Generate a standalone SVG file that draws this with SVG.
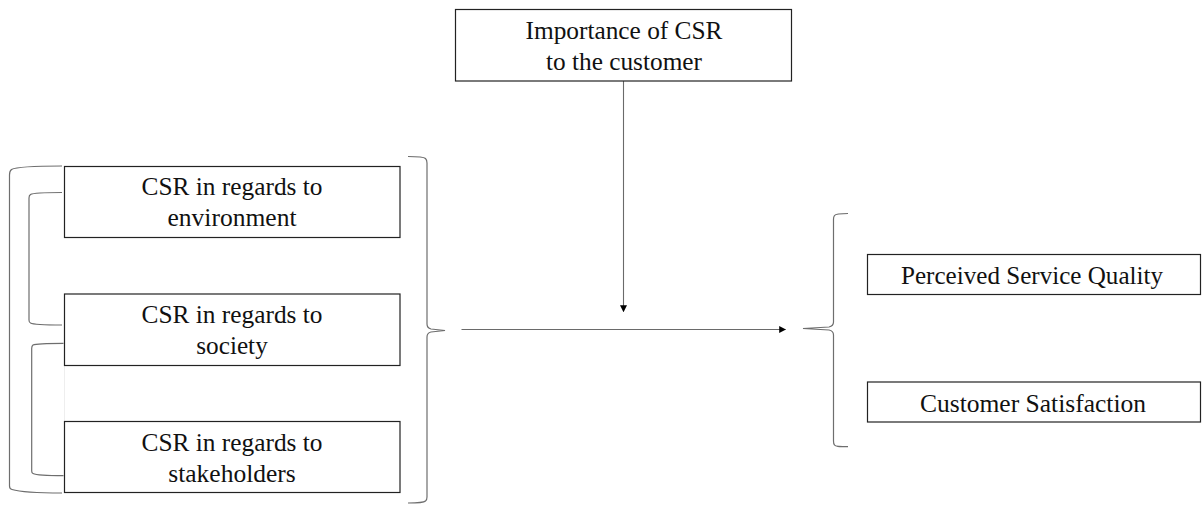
<svg xmlns="http://www.w3.org/2000/svg" width="1202" height="506" viewBox="0 0 1202 506">
<style>
.box{fill:#fff;stroke:#222;stroke-width:1.2}
.t{font-family:"Liberation Serif","Times New Roman",serif;font-size:25.4px;fill:#111;text-anchor:middle}
.br{fill:none;stroke:#6e6e6e;stroke-width:1.2}
.ln{fill:none;stroke:#6a6a6a;stroke-width:1.1}
</style>
<defs>
<marker id="ah" viewBox="0 0 10 10" refX="9" refY="5" markerWidth="7" markerHeight="7" markerUnits="userSpaceOnUse" orient="auto">
<path d="M0,0 L10,5 L0,10 Z" fill="#000"/>
</marker>
</defs>
<rect width="1202" height="506" fill="#fff"/>
<g id="brackets">
<path class="br" d="M62,166 C40,166 16,167 11.5,169.5 Q9.5,171 9.5,175 V486 Q9.5,489 12,489.5 C20,492 40,493 62,493"/>
<path class="br" d="M62,192.5 C45,192.5 33,193 30.5,194.5 Q29,195.5 29,198 V320 Q29,322.5 30.5,323 C33,324.5 45,325 62,325"/>
<path class="br" d="M63.5,343.3 C46,343.3 35,344 33,345 Q31.7,346 31.7,348.5 V471 Q31.7,473 33,473.5 C36,475 46,475.7 63.5,475.7"/>
<path class="br" d="M408,156.5 C420,156.5 424,157 425.5,158.5 Q427,160 427,163 V324 Q427,328 431,329 L445,330.5 L431,332 Q427,333 427,337 V497 Q427,500 425.5,501 C424,502.5 420,503 408,503"/>
<path class="br" d="M848,213.5 C838,213.5 835.5,214 834.5,215.5 Q833.5,217 833.5,219 V322 Q833.5,326 829,327 L803,328.5 L829,330 Q833.5,331 833.5,335 V441 Q833.5,444 834.5,445 C835.5,446.5 838,446.7 848,446.7"/>
<line x1="64.5" y1="365.5" x2="64.5" y2="421.5" stroke="#eeeeee" stroke-width="1"/>
</g>
<g id="connectors">
<line class="ln" x1="623.5" y1="81" x2="623.5" y2="311.5" marker-end="url(#ah)"/>
<line class="ln" x1="461.5" y1="329.5" x2="785.5" y2="329.5" marker-end="url(#ah)"/>
</g>
<g id="importance">
<rect class="box" x="455.5" y="9.5" width="336" height="71.5"/>
<text class="t" x="624" y="38.5" textLength="197" lengthAdjust="spacingAndGlyphs">Importance of CSR</text>
<text class="t" x="624" y="69.5" textLength="156" lengthAdjust="spacingAndGlyphs">to the customer</text>
</g>
<g id="environment">
<rect class="box" x="64.5" y="166.5" width="335.5" height="71"/>
<text class="t" x="232" y="195" textLength="181" lengthAdjust="spacingAndGlyphs">CSR in regards to</text>
<text class="t" x="232" y="226" textLength="129" lengthAdjust="spacingAndGlyphs">environment</text>
</g>
<g id="society">
<rect class="box" x="64.5" y="294" width="335.5" height="71.5"/>
<text class="t" x="232" y="323" textLength="181" lengthAdjust="spacingAndGlyphs">CSR in regards to</text>
<text class="t" x="232" y="354" textLength="71.5" lengthAdjust="spacingAndGlyphs">society</text>
</g>
<g id="stakeholders">
<rect class="box" x="64.5" y="421.5" width="335.5" height="71"/>
<text class="t" x="232" y="450.5" textLength="181" lengthAdjust="spacingAndGlyphs">CSR in regards to</text>
<text class="t" x="232" y="481.5" textLength="127.5" lengthAdjust="spacingAndGlyphs">stakeholders</text>
</g>
<g id="service-quality">
<rect class="box" x="867.5" y="254.5" width="333" height="40"/>
<text class="t" x="1032" y="284" textLength="262" lengthAdjust="spacingAndGlyphs">Perceived Service Quality</text>
</g>
<g id="satisfaction">
<rect class="box" x="867.5" y="382" width="333" height="40"/>
<text class="t" x="1033" y="411.5" textLength="226" lengthAdjust="spacingAndGlyphs">Customer Satisfaction</text>
</g>
</svg>
